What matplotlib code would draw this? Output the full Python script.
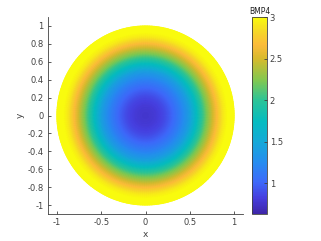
import numpy as np
import matplotlib
matplotlib.use('Agg')
import matplotlib.pyplot as plt
from matplotlib.colors import LinearSegmentedColormap

# radial profile of BMP4 (r -> value)
radius = [0.0, 0.1, 0.2, 0.3, 0.4, 0.5, 0.58, 0.64, 0.7, 0.76, 0.82, 0.88, 0.93, 1.0]
bmp4 = [0.76, 0.79, 0.86, 1.0, 1.18, 1.42, 1.75, 2.0, 2.25, 2.48, 2.72, 2.92, 3.0, 3.0]

xticks = [-1, -0.5, 0, 0.5, 1]
yticks = [-1, -0.8, -0.6, -0.4, -0.2, 0, 0.2, 0.4, 0.6, 0.8, 1]
cticks = [1, 1.5, 2, 2.5, 3]
clim = (0.63, 3.0)

# rough parula
pts = [(0.00, (62, 38, 168)), (0.08, (70, 62, 222)), (0.16, (62, 105, 250)),
       (0.26, (38, 140, 240)), (0.37, (20, 170, 215)), (0.47, (5, 188, 192)),
       (0.58, (45, 196, 150)), (0.68, (130, 200, 80)), (0.79, (215, 186, 45)),
       (0.86, (252, 187, 58)), (0.93, (246, 216, 40)), (1.00, (249, 251, 14))]
parula = LinearSegmentedColormap.from_list(
    'parula', [(p, tuple(c / 255 for c in rgb)) for p, rgb in pts])

plt.rcParams['axes.unicode_minus'] = False
plt.rcParams['font.family'] = 'DejaVu Sans'
gray = '#404040'

fig = plt.figure(figsize=(3.21, 2.41), dpi=100)
ax = fig.add_axes([48 / 321, 27 / 241, 195 / 321, 197 / 241])

r = np.linspace(0, 1, 120)
th = np.linspace(0, 2 * np.pi, 240)
R, TH = np.meshgrid(r, th)
V = np.interp(R, radius, bmp4)
pm = ax.pcolormesh(R * np.cos(TH), R * np.sin(TH), V, cmap=parula,
                   vmin=clim[0], vmax=clim[1], shading='gouraud', rasterized=True)

ax.set_xlim(-1.1, 1.1)
ax.set_ylim(-1.1, 1.1)
ax.set_xticks(xticks)
ax.set_xticklabels(['%g' % t for t in xticks])
ax.set_yticks(yticks)
ax.set_yticklabels(['%g' % t for t in yticks])
for s in ['top', 'right']:
    ax.spines[s].set_visible(False)
for s in ['left', 'bottom']:
    ax.spines[s].set_color(gray)
    ax.spines[s].set_linewidth(0.6)
ax.tick_params(direction='in', length=2.5, width=0.6, colors=gray,
               labelsize=6, pad=3)
ax.set_xlabel('x', fontsize=6.5, color=gray, labelpad=2)
ax.set_ylabel('y', fontsize=6.5, color=gray, labelpad=2)

cax = fig.add_axes([252 / 321, 27 / 241, 15 / 321, 197 / 241])
cb = fig.colorbar(pm, cax=cax, ticks=cticks)
cb.ax.set_yticklabels(['%g' % t for t in cticks])
cb.outline.set_edgecolor(gray)
cb.outline.set_linewidth(0.6)
cb.ax.tick_params(direction='in', length=2.5, width=0.6, colors=gray,
                  labelsize=6, pad=2)
cb.ax.set_title('BMP4', fontsize=5.5, color='#202020', pad=2)

fig.savefig('out.png', dpi=100)
